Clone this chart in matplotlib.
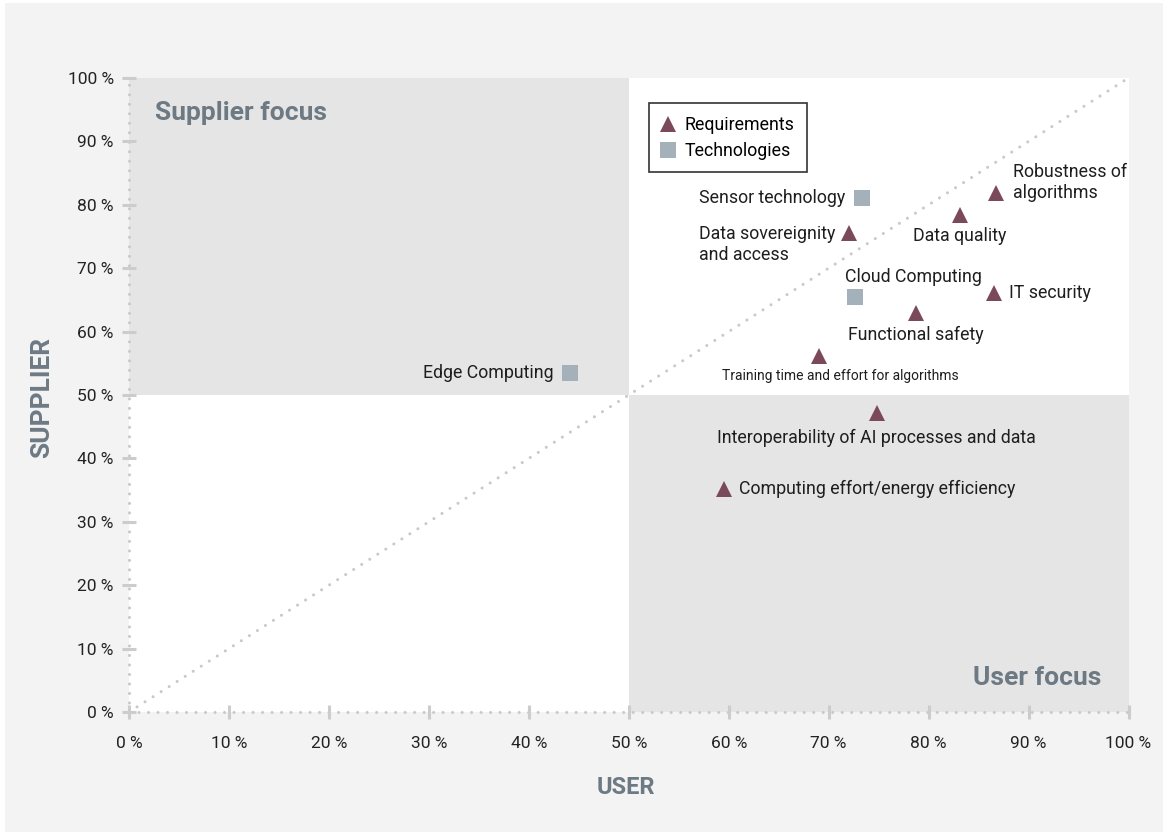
import matplotlib
matplotlib.use("Agg")
import matplotlib.pyplot as plt
import matplotlib.patches as patches
from matplotlib.lines import Line2D

plt.rcParams['font.family'] = ['Roboto', 'DejaVu Sans']

# Requirements (triangles)
req_names = [
    "Data sovereignity\nand access",
    "Data quality",
    "Robustness of\nalgorithms",
    "IT security",
    "Functional safety",
    "Training time and effort for algorithms",
    "Interoperability of AI processes and data",
    "Computing effort/energy efficiency",
]
req_user = [72.0, 83.1, 86.7, 86.5, 78.7, 69.0, 74.8, 59.5]
req_supplier = [75.6, 78.4, 81.9, 66.1, 62.9, 56.2, 47.2, 35.2]

# Technologies (squares)
tech_names = ["Edge Computing", "Sensor technology", "Cloud Computing"]
tech_user = [44.1, 73.3, 72.6]
tech_supplier = [53.5, 81.1, 65.5]

ticks = list(range(0, 101, 10))
tick_labels = [f"{t} %" for t in ticks]

TRI = "#7a4a5b"
SQ = "#a5b1ba"
GREY_FILL = "#e5e5e5"
DOT = "#c9c9c9"
LABEL_GREY = "#6d7a84"

FS = 12.8
# label placement: (dx px, dy px, ha, size)
req_layout = [
    (-13, -12, "right", FS),
    (0, -21, "center", FS),
    (17, 10, "left", FS),
    (15, 0, "left", FS),
    (0, -22, "center", FS),
    (22, -20, "center", 10),
    (0, -25, "center", FS),
    (15, 0, "left", FS),
]
tech_layout = [
    (-16, 0, "right", FS),
    (-16, 0, "right", FS),
    (-10, 20, "left", FS),
]

fig = plt.figure(figsize=(11.63, 8.32), dpi=100)
fig.patch.set_facecolor("white")
# light panel behind everything (thin white strip on top and left)
fig.patches.append(patches.Rectangle((5 / 1163, 0), 1, 1 - 3 / 832,
                                     transform=fig.transFigure, facecolor="#f3f3f3",
                                     edgecolor="none", zorder=-5))

ax = fig.add_axes([129 / 1163, 120 / 832, 999.5 / 1163, 634 / 832])
ax.set_zorder(2)
ax.set_facecolor("white")
ax.set_xlim(0, 100)
ax.set_ylim(0, 100)

# quadrants
ax.add_patch(patches.Rectangle((0, 50), 50, 50, facecolor=GREY_FILL, edgecolor="none", zorder=0))
ax.add_patch(patches.Rectangle((50, 0), 50, 50, facecolor=GREY_FILL, edgecolor="none", zorder=0))

for s in ax.spines.values():
    s.set_visible(False)

dots = dict(color=DOT, lw=2.2, linestyle=(0, (0.01, 3.1)), dash_capstyle="round",
            clip_on=False, zorder=1)
ax.plot([0, 100], [0, 100], **dots)
ax.plot([0, 100], [0, 0], **dots)
ax.plot([0, 0], [0, 100], **dots)

ax.set_xticks(ticks)
ax.set_yticks(ticks)
ax.set_xticklabels(tick_labels)
ax.set_yticklabels(tick_labels)
ax.tick_params(direction="inout", length=10, width=2.2, color="#cccccc",
               labelsize=12.5, labelcolor="#222222")
ax.tick_params(axis="x", pad=12)
ax.tick_params(axis="y", pad=6)

ax.plot(req_user, req_supplier, "^", color=TRI, ms=11.5, mew=0, zorder=3)
ax.plot(tech_user, tech_supplier, "s", color=SQ, ms=11.5, mew=0, zorder=3)

for name, x, y, (dx, dy, ha, fs) in zip(req_names, req_user, req_supplier, req_layout):
    ax.annotate(name, (x, y), xytext=(dx * 0.72, dy * 0.72), textcoords="offset points",
                ha=ha, va="center", fontsize=fs, color="#1e1e1e", multialignment="left",
                linespacing=1.2, zorder=4)
for name, x, y, (dx, dy, ha, fs) in zip(tech_names, tech_user, tech_supplier, tech_layout):
    ax.annotate(name, (x, y), xytext=(dx * 0.72, dy * 0.72), textcoords="offset points",
                ha=ha, va="center", fontsize=fs, color="#1e1e1e", zorder=4)

ax.text(2.6, 94.5, "Supplier focus", fontsize=19, fontweight="bold", color=LABEL_GREY,
        va="center", ha="left")
ax.text(97.3, 5.4, "User focus", fontsize=19, fontweight="bold", color=LABEL_GREY,
        va="center", ha="right")

fig.text(42 / 1163, 1 - 397 / 832, "SUPPLIER", rotation=90, fontsize=19, fontweight="bold",
         color=LABEL_GREY, ha="center", va="center")
fig.text(626 / 1163, 1 - 787 / 832, "USER", fontsize=17, fontweight="bold",
         color=LABEL_GREY, ha="center", va="center")

handles = [
    Line2D([], [], marker="^", color=TRI, linestyle="none", ms=11.5, mew=0),
    Line2D([], [], marker="s", color=SQ, linestyle="none", ms=11.5, mew=0),
]
leg = ax.legend(handles, ["Requirements", "Technologies"], loc="upper left",
                bbox_to_anchor=(0.520, 0.960), borderaxespad=0, frameon=True,
                fancybox=False, fontsize=FS, handlelength=0.8, handletextpad=0.5,
                labelspacing=0.45, borderpad=0.7)
leg.get_frame().set_edgecolor("#333333")
leg.get_frame().set_linewidth(1.2)
leg.get_frame().set_facecolor("white")
leg.get_frame().set_alpha(1)

fig.savefig("out.png", dpi=100, facecolor=fig.get_facecolor())
